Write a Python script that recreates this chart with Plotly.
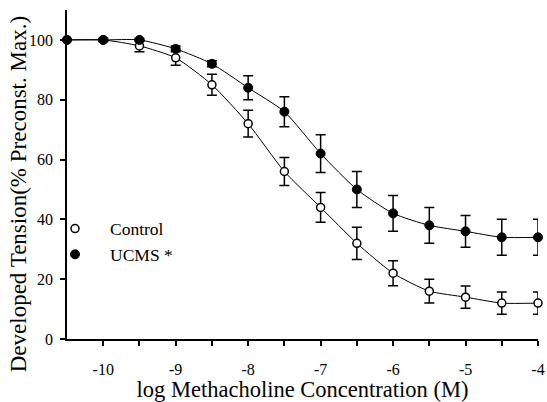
import plotly.graph_objects as go

log_conc = [-10.5, -10, -9.5, -9, -8.5, -8, -7.5, -7, -6.5, -6, -5.5, -5, -4.5, -4]
control = [100, 100, 98, 94, 85, 72, 56, 44, 32, 22, 16, 14, 12, 12]
control_sem = [0, 0.5, 2, 2.5, 3.5, 4.5, 4.7, 5, 5.4, 4.2, 4, 3.7, 3.7, 3.7]
ucms = [100, 100, 100, 97, 92, 84, 76, 62, 50, 42, 38, 36, 34, 34]
ucms_sem = [0, 0.5, 0.5, 1, 1, 4, 5, 6.3, 6, 6, 6, 5.3, 6, 6]

x_tickvals = [-10, -9.5, -9, -8.5, -8, -7.5, -7, -6.5, -6, -5.5, -5, -4.5, -4]
x_ticktext = ["-10", "", "-9", "", "-8", "", "-7", "", "-6", "", "-5", "", "-4"]
y_tickvals = [0, 20, 40, 60, 80, 100]

FONT = "Liberation Serif, Times New Roman, serif"

fig = go.Figure()
for yv in (control, ucms):
    fig.add_trace(go.Scatter(
        x=log_conc, y=yv, mode="lines", showlegend=False, hoverinfo="skip",
        line=dict(color="black", width=1, shape="spline", smoothing=0.6),
        cliponaxis=False,
    ))
fig.add_trace(go.Scatter(
    x=log_conc, y=control, name="Control", mode="markers",
    marker=dict(symbol="circle", size=8, color="white", line=dict(color="black", width=1.5)),
    error_y=dict(type="data", array=control_sem, color="black", thickness=1.5, width=5),
    cliponaxis=False,
))
fig.add_trace(go.Scatter(
    x=log_conc, y=ucms, name="UCMS *", mode="markers",
    marker=dict(symbol="circle", size=9, color="black", line=dict(color="black", width=1)),
    error_y=dict(type="data", array=ucms_sem, color="black", thickness=1.5, width=5),
    cliponaxis=False,
))

fig.add_annotation(
    text="Developed Tension(% Preconst. Max.)", textangle=-90,
    xref="paper", yref="paper", x=-0.104, y=0.44,
    xanchor="center", yanchor="middle", showarrow=False,
    font=dict(size=23, family=FONT, color="black"),
)

fig.update_layout(
    width=547, height=402,
    margin=dict(l=67, r=9, t=10, b=63, autoexpand=False),
    paper_bgcolor="white", plot_bgcolor="white",
    font=dict(family=FONT, color="black", size=16),
    showlegend=True,
    legend=dict(x=-0.0573, y=0.39, xanchor="left", yanchor="top",
                bgcolor="rgba(0,0,0,0)", font=dict(size=17.5, family=FONT),
                itemwidth=60, tracegroupgap=0),
    xaxis=dict(range=[-10.5, -4], tickvals=x_tickvals, ticktext=x_ticktext, automargin=False,
               showgrid=False, zeroline=False, showline=True, linecolor="black", linewidth=1.5,
               ticks="outside", ticklen=5, tickwidth=1.5, tickcolor="black",
               ticklabelstandoff=10, tickfont=dict(size=16),
               title=dict(text="log Methacholine Concentration (M)", font=dict(size=22.5), standoff=11)),
    yaxis=dict(range=[0, 110], tickvals=y_tickvals, automargin=False,
               showgrid=False, zeroline=False, showline=True, linecolor="black", linewidth=1.5,
               ticks="outside", ticklen=5, tickwidth=1.5, tickcolor="black",
               ticklabelstandoff=4, tickfont=dict(size=16)),
)

fig.write_html("out.html")
